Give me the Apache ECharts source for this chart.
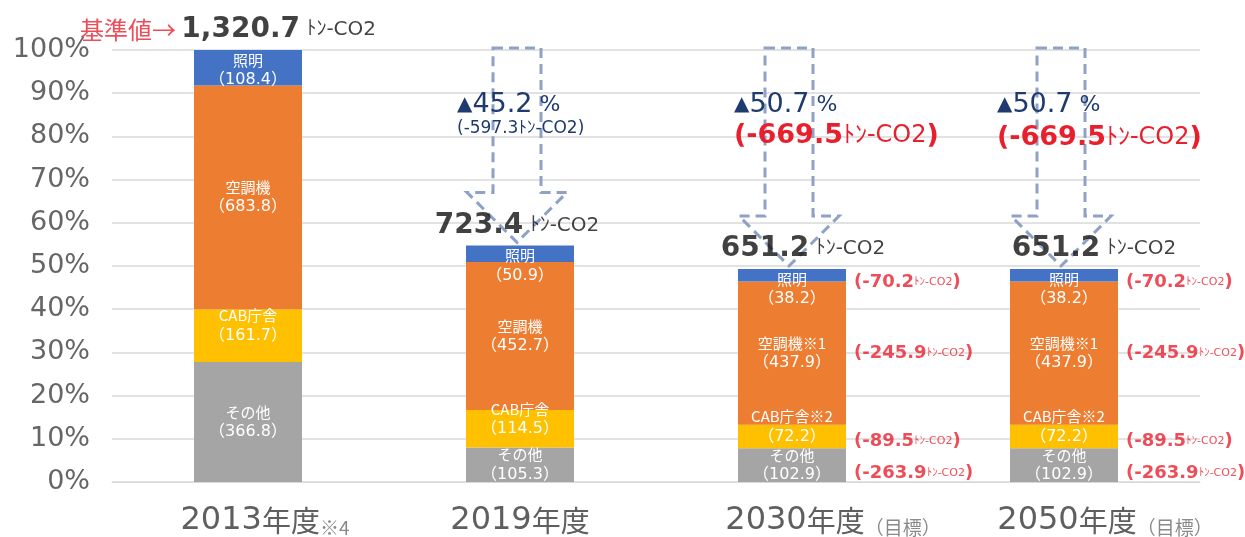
<!DOCTYPE html>
<html><head><meta charset="utf-8">
<script src="https://cdn.jsdelivr.net/npm/echarts@6/dist/echarts.min.js"></script>
<style>html,body{margin:0;padding:0;background:#fff}#c{width:1245px;height:537px}</style>
</head><body><div id="c"></div>
<script>
// ---- data ----
const categories = ['2013年度', '2019年度', '2030年度', '2050年度'];
const categorySuffix = ['※4', '', '（目標）', '（目標）'];
const baseline = 1320.7;
const otherVals = [366.8, 105.3, 102.9, 102.9];
const cabVals = [161.7, 114.5, 72.2, 72.2];
const acVals = [683.8, 452.7, 437.9, 437.9];
const lightVals = [108.4, 50.9, 38.2, 38.2];
const totals = [1320.7, 723.4, 651.2, 651.2];
const cabSuffix = ['', '', '※2', '※2'];
const acSuffix = ['', '', '※1', '※1'];
const reductionPct = [null, 45.2, 50.7, 50.7];
const reductionAmt = [null, -597.3, -669.5, -669.5];
const otherCut = [null, null, -263.9, -263.9];
const cabCut = [null, null, -89.5, -89.5];
const acCut = [null, null, -245.9, -245.9];
const lightCut = [null, null, -70.2, -70.2];
const yTickLabels = ['0%', '10%', '20%', '30%', '40%', '50%', '60%', '70%', '80%', '90%', '100%'];

// ---- helpers ----
const FONT = "'DejaVu Sans', 'Noto Sans CJK JP', sans-serif";
const CJK = "'Noto Sans CJK JP', sans-serif";
const pct = v => v / baseline * 100;
const fmt = v => v.toFixed(1);
const RED = '#E8202E', NAVY = '#1F3A6E', ARROW = '#8FA2C6';

const barLabel = (names, vals, suffix) => ({
  show: true, color: '#fff', fontFamily: CJK, fontSize: 15, lineHeight: 20,
  formatter: p => '{c|' + names + (suffix ? suffix[p.dataIndex] : '') + '}\n{d|（' + fmt(vals[p.dataIndex]) + '）}',
  rich: {
    c: { fontFamily: CJK, fontSize: 15, color: '#fff', lineHeight: 20 },
    d: { fontFamily: FONT, fontSize: 16, color: '#fff', lineHeight: 20 }
  }
});

// reduction labels (right side)
const segs = [
  { cut: otherCut, lo: i => 0, v: otherVals, dy: 8 },
  { cut: cabCut, lo: i => otherVals[i], v: cabVals, dy: 5 },
  { cut: acCut, lo: i => otherVals[i] + cabVals[i], v: acVals, dy: 0 },
  { cut: lightCut, lo: i => otherVals[i] + cabVals[i] + acVals[i], v: lightVals, dy: 7 }
];
const cutData = [];
segs.forEach(s => {
  s.cut.forEach((c, i) => {
    if (c == null) return;
    cutData.push({ value: [i, pct(s.lo(i) + s.v[i] / 2)], cut: c, label: { offset: [0, s.dy] } });
  });
});

const totalShift = [[-20, 0], [-3, 0], [11, 0], [30, 0]];
const totalData = totals.map((t, i) => ({
  value: [i, pct(t)], label: { offset: totalShift[i] }
}));

const arrowData = reductionPct.map((r, i) => r == null ? null : [i, pct(totals[i])]).filter(d => d);
// [dx, dy line2, font line2, color, unit font, weight]
const arrowTextCfg = [null, [-63, 79, 17, NAVY, 17, 'normal'], [-58, 86, 27, RED, 24, 'bold'], [-67, 88, 27, RED, 24, 'bold']];

const chart = echarts.init(document.getElementById('c'));
chart.setOption({
  animation: false,
  backgroundColor: '#fff',
  grid: { left: 112, right: 45, top: 50, bottom: 54 },
  xAxis: {
    type: 'category', data: categories,
    axisLine: { show: true, lineStyle: { color: '#d9d9d9', width: 1 } },
    axisTick: { show: false },
    axisLabel: {
      interval: 0, margin: 23, color: '#595959', fontFamily: FONT,
      formatter: (v, i) => {
        const m = v.match(/^(\d+)(.*)$/);
        const s = categorySuffix[i];
        const main = '{m|' + m[1] + '}{k|' + m[2] + '}';
        if (!s) return main;
        return '{' + (s.length > 2 ? 'p2' : 'p1') + '|}' + main + '{s|' + s + '}';
      },
      rich: {
        m: { fontSize: 32, color: '#5f5f5f', fontFamily: FONT },
        k: { fontSize: 29, color: '#5f5f5f', fontFamily: CJK },
        s: { fontSize: 19, color: '#8a8a8a', fontFamily: CJK, verticalAlign: 'bottom' },
        p1: { width: 34 },
        p2: { width: 82 }
      }
    }
  },
  yAxis: {
    type: 'value', min: 0, max: 100, interval: 10,
    axisLine: { show: false }, axisTick: { show: false },
    splitLine: { lineStyle: { color: '#d9d9d9', width: 1.5 } },
    axisLabel: {
      margin: 22, color: '#666', fontSize: 27, fontFamily: FONT,
      formatter: v => yTickLabels[Math.round(v / 10)]
    }
  },
  series: [
    {
      name: 'その他', type: 'bar', stack: 'a', barWidth: 108,
      itemStyle: { color: '#A5A5A5' },
      data: otherVals.map(pct),
      label: Object.assign({ position: 'inside' }, barLabel('その他', otherVals))
    },
    {
      name: 'CAB庁舎', type: 'bar', stack: 'a',
      itemStyle: { color: '#FFC000' },
      data: cabVals.map(pct),
      label: Object.assign({ position: 'inside', offset: [0, -10] }, barLabel('CAB庁舎', cabVals, cabSuffix))
    },
    {
      name: '空調機', type: 'bar', stack: 'a',
      itemStyle: { color: '#ED7D31' },
      data: acVals.map(pct),
      label: Object.assign({ position: 'inside' }, barLabel('空調機', acVals, acSuffix))
    },
    {
      name: '照明', type: 'bar', stack: 'a',
      itemStyle: { color: '#4472C4' },
      data: lightVals.map(pct),
      label: Object.assign({ position: 'insideTop', distance: 0 }, barLabel('照明', lightVals))
    },
    {
      type: 'custom', z: 5,
      data: arrowData,
      renderItem: (params, api) => {
        const i = api.value(0);
        const top = api.coord([i, 100]);
        const tip = api.coord([i, api.value(1)]);
        const cx = top[0] - 3;
        const tipY = tip[1] - 3;
        const sw = 24, hw = 50, hl = 50;
        const pts = [
          [cx - sw, top[1] - 2], [cx + sw, top[1] - 2], [cx + sw, tipY - hl],
          [cx + hw, tipY - hl], [cx, tipY], [cx - hw, tipY - hl], [cx - sw, tipY - hl]
        ];
        const cfg = arrowTextCfg[i];
        const children = [
          { type: 'polygon', shape: { points: pts },
            style: { fill: null, stroke: ARROW, lineWidth: 3, lineDash: [10, 6] } },
          { type: 'text', z2: 10, style: {
              x: top[0] + cfg[0], y: top[1] + 55, align: 'left', verticalAlign: 'middle',
              text: '{t|▲}{n|' + fmt(reductionPct[i]) + '}{u| %}',
              rich: {
                t: { fontSize: 20, fill: NAVY, fontFamily: FONT },
                n: { fontSize: 27, fill: NAVY, fontFamily: FONT },
                u: { fontSize: 22, fill: NAVY, fontFamily: FONT }
              }
            } },
          { type: 'text', z2: 10, style: {
              x: top[0] + cfg[0], y: top[1] + cfg[1], align: 'left', verticalAlign: 'middle',
              text: '{a|(' + fmt(reductionAmt[i]) + '}{b|ﾄﾝ-CO2}{a|)}',
              rich: {
                a: { fontSize: cfg[2], fill: cfg[3], fontFamily: FONT, fontWeight: cfg[5] },
                b: { fontSize: cfg[4], fill: cfg[3], fontFamily: FONT }
              }
            } }
        ];
        return { type: 'group', children };
      }
    },
    {
      type: 'scatter', symbolSize: 0, z: 6,
      data: totalData,
      label: {
        show: true, position: 'top', distance: 6,
        formatter: p => (p.dataIndex === 0 ? '{r|基準値→ }' : '') + '{n|' +
          totals[p.dataIndex].toLocaleString('en-US', { minimumFractionDigits: 1 }) + '}{u| ﾄﾝ-CO2}',
        rich: {
          r: { fontSize: 24, color: RED, fontFamily: CJK },
          n: { fontSize: 28, color: '#111', fontFamily: FONT, fontWeight: 'bold' },
          u: { fontSize: 20, color: '#111', fontFamily: FONT }
        }
      }
    },
    {
      type: 'scatter', symbolSize: 0, z: 6,
      data: cutData,
      label: {
        show: true, position: 'right', distance: 62,
        formatter: p => '{a|(' + fmt(p.data.cut) + '}{b|ﾄﾝ-CO2}{a|)}',
        rich: {
          a: { fontSize: 18, color: RED, fontFamily: FONT, fontWeight: 'bold' },
          b: { fontSize: 11, color: RED, fontFamily: FONT }
        }
      }
    }
  ]
});
</script></body></html>
